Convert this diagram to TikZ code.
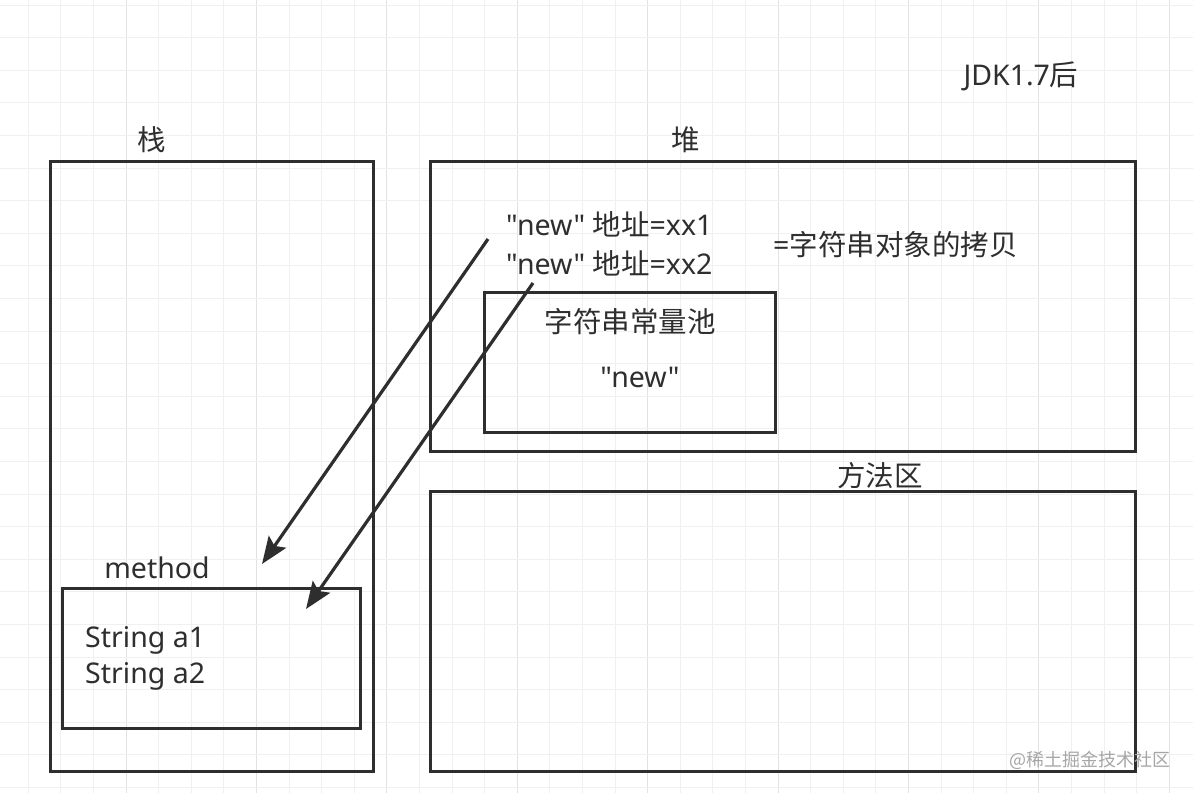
\documentclass[tikz,border=0pt]{standalone}
\usepackage{fontspec}
\setmainfont{Noto Sans}[Ligatures=TeXOff]
\newfontfamily\cjk{Noto Sans CJK SC}
\usetikzlibrary{arrows.meta}
\definecolor{ink}{HTML}{2E2E2E}
\definecolor{gridminor}{HTML}{F0F0F0}
\definecolor{gridmajor}{HTML}{E2E2E2}
\tikzset{
  box/.style={draw=ink, line width=3pt, fill=none, inner sep=0pt},
  lbl/.style={text=ink, font=\fontsize{28.5}{32}\selectfont, inner sep=0pt},
  ptr/.style={draw=ink, line width=3.2pt, -{Stealth[length=27pt,width=21pt,inset=5pt]}},
}
\begin{document}
\begin{tikzpicture}[x=1pt,y=-1pt]
\useasboundingbox (0,0) rectangle (1193,793);
\fill[white] (0,0) rectangle (1193,793);
% grid
\foreach \k in {0,...,35}{
  \pgfmathsetmacro{\gx}{28.3+32.6*\k}
  \pgfmathtruncatemacro{\m}{mod(\k,4)}
  \ifnum\m=3 \draw[gridmajor, line width=1pt] (\gx,0) -- (\gx,793);
  \else \draw[gridminor, line width=1pt] (\gx,0) -- (\gx,793); \fi
}
\foreach \k in {0,...,24}{
  \pgfmathsetmacro{\gy}{5+32.6*\k}
  \draw[gridminor, line width=1pt] (0,\gy) -- (1193,\gy);
}
% boxes
\node[box, minimum width=323pt, minimum height=610pt] (stack) at (211.5,466) {};
\node[box, minimum width=705pt, minimum height=290pt] (heap) at (782.5,306) {};
\node[box, minimum width=705pt, minimum height=280pt] (methodarea) at (782.5,631) {};
\node[box, minimum width=291pt, minimum height=140pt] (pool) at (629.5,362) {};
\node[box, minimum width=298pt, minimum height=140pt] (frame) at (211,658) {};
% labels
\node[lbl] (jdk) at (1021,76) {JDK1.7{\cjk 后}};
\node[lbl] (stacklbl) at (152,140) {\cjk 栈};
\node[lbl] (heaplbl) at (686,140) {\cjk 堆};
\node[lbl] (malbl) at (880,476) {\cjk 方法区};
\node[lbl] (poollbl) at (630,322) {\cjk 字符串常量池};
\node[lbl] (poolnew) at (640,377) {"new"};
\node[lbl, anchor=west] (addr1) at (506,224) {"new" {\cjk 地址}=xx1};
\node[lbl, anchor=west] (addr2) at (506,263) {"new" {\cjk 地址}=xx2};
\node[lbl, anchor=west] (copy) at (773,245) {={\cjk 字符串对象的拷贝}};
\node[lbl] (methodlbl) at (157,568) {method};
\node[lbl, anchor=west] (a1) at (85,640) {String a1};
\node[lbl, anchor=west] (a2) at (85,676) {String a2};
\node[text=gray!70, font=\cjk\fontsize{18}{20}\selectfont, inner sep=0pt] (wm) at (1090,760) {@稀土掘金技术社区};
% arrows
\coordinate (s1) at (488,239);
\coordinate (t1) at (262,564);
\coordinate (s2) at (533,283);
\coordinate (t2) at (306,609);
\draw[ptr] (s1) -- (t1);
\draw[ptr] (s2) -- (t2);
\end{tikzpicture}
\end{document}
